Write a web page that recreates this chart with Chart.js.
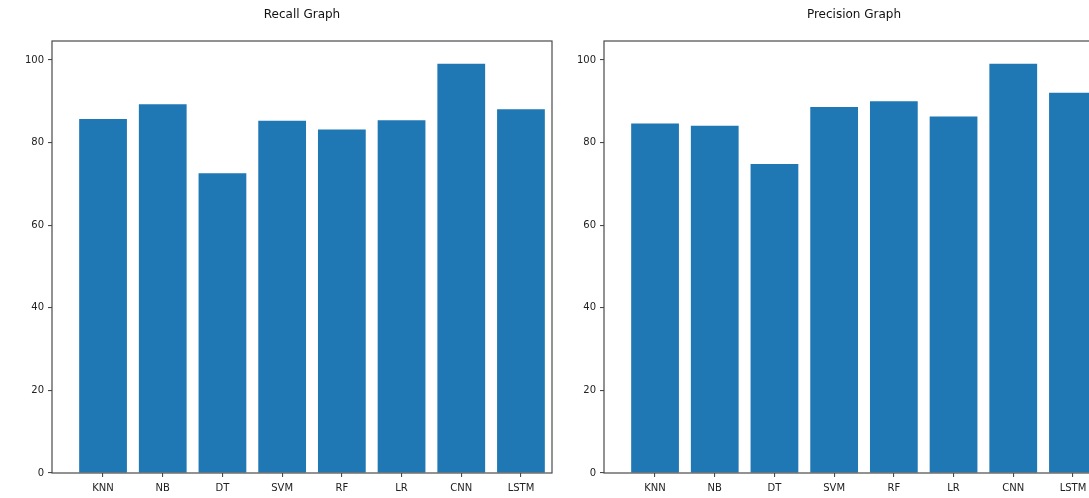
<!DOCTYPE html>
<html>
<head>
<meta charset="utf-8">
<script src="https://cdn.jsdelivr.net/npm/chart.js@4"></script>
<style>
  body { margin: 0; width: 1089px; height: 498px; overflow: hidden; background: #fff; position: relative; }
  canvas { position: absolute; top: 0; }
</style>
</head>
<body>
<canvas id="graficoRecall" width="560" height="498" style="left:0px"></canvas>
<canvas id="graficoPrecisao" width="560" height="498" style="left:552px"></canvas>
<script>
// Modelos avaliados (eixo x)
const modelos = ['KNN', 'NB', 'DT', 'SVM', 'RF', 'LR', 'CNN', 'LSTM'];

// Valores (%)
const valoresRecall = [85.7, 89.3, 72.6, 85.3, 83.2, 85.4, 99.1, 88.1];
const valoresPrecisao = [84.6, 84.1, 74.8, 88.6, 90.0, 86.3, 99.1, 92.1];

// Rótulos do eixo y
const ticksY = [0, 20, 40, 60, 80, 100];

const corBarra = '#1f77b4';
const corEixo = '#4a4a4a';
const fonte = 'DejaVu Sans';

// Desenha a moldura (spines) em volta da área do gráfico
const moldura = {
  id: 'moldura',
  afterDatasetsDraw(chart) {
    const { ctx, chartArea } = chart;
    ctx.save();
    ctx.strokeStyle = corEixo;
    ctx.lineWidth = 1.2;
    ctx.strokeRect(chartArea.left, chartArea.top, chartArea.right - chartArea.left, chartArea.bottom - chartArea.top);
    ctx.restore();
  }
};

function criarGrafico(id, titulo, valores) {
  const contexto = document.getElementById(id).getContext('2d');
  return new Chart(contexto, {
    type: 'bar',
    data: {
      datasets: [{
        data: valores.map((v, i) => ({ x: i, y: v })),
        backgroundColor: corBarra,
        borderWidth: 0,
        barPercentage: 0.8,
        categoryPercentage: 1
      }]
    },
    plugins: [moldura],
    options: {
      responsive: false,
      animation: false,
      devicePixelRatio: 1,
      layout: { padding: { left: 0, right: 8, top: 0, bottom: 0 } },
      plugins: {
        legend: { display: false },
        tooltip: { enabled: false },
        title: {
          display: true,
          text: titulo,
          fullSize: false,
          color: '#111',
          font: { family: fonte, size: 12, weight: 'normal' },
          padding: { top: 8, bottom: 18.6 }
        }
      },
      scales: {
        x: {
          type: 'linear',
          offset: false,
          min: -0.855,
          max: 7.52,
          afterBuildTicks: (eixo) => { eixo.ticks = modelos.map((m, i) => ({ value: i })); },
          afterFit: (eixo) => { eixo.height = 25; },
          ticks: {
            callback: (v) => modelos[v],
            color: '#222',
            font: { family: fonte, size: 10 },
            padding: 5,
            maxRotation: 0,
            autoSkip: false
          },
          grid: { offset: false, drawOnChartArea: false, tickLength: 4, color: corEixo, lineWidth: 1.1 },
          border: { display: false }
        },
        y: {
          min: 0,
          max: 104.6,
          afterBuildTicks: (eixo) => { eixo.ticks = ticksY.map((t) => ({ value: t })); },
          afterFit: (eixo) => { eixo.width = 52; },
          ticks: {
            color: '#222',
            font: { family: fonte, size: 10 },
            padding: 4
          },
          grid: { drawOnChartArea: false, tickLength: 4, color: corEixo, lineWidth: 1.1 },
          border: { display: false }
        }
      }
    }
  });
}

criarGrafico('graficoRecall', 'Recall Graph', valoresRecall);
criarGrafico('graficoPrecisao', 'Precision Graph', valoresPrecisao);
</script>
</body>
</html>
